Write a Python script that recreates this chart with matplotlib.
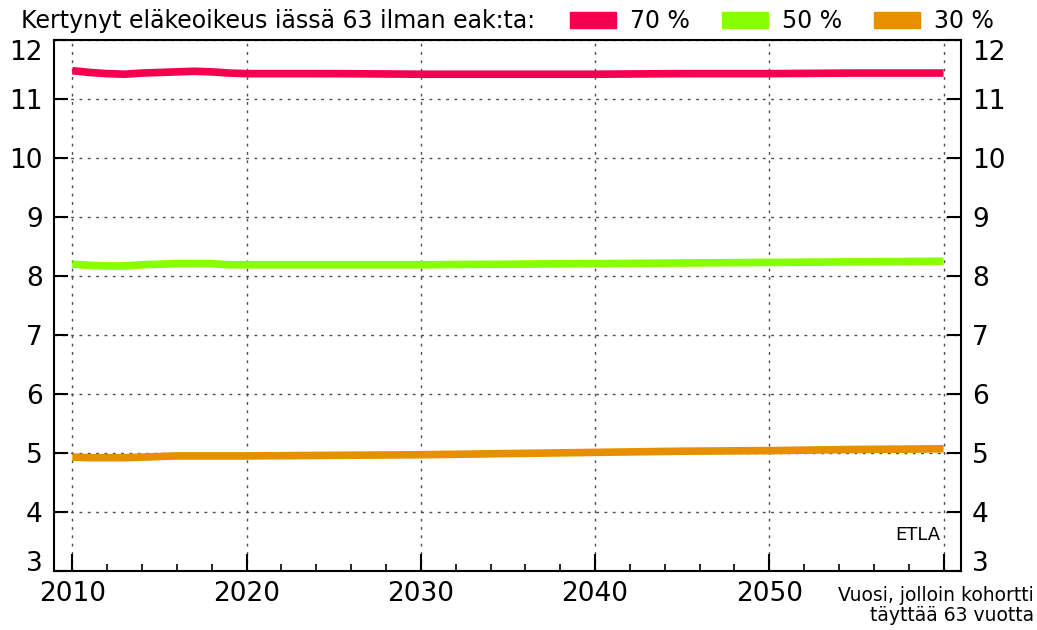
import matplotlib
matplotlib.use("Agg")
import matplotlib.pyplot as plt
from matplotlib.patches import Patch
from matplotlib.ticker import MultipleLocator

plt.rcParams['font.family'] = ['DejaVu Sans']

# kertynyt eläkeoikeus iässä 63 (ilman eak:ta), arvot luettu kuvasta
years = [2010, 2011, 2012, 2013, 2014, 2015, 2016, 2017, 2018, 2019, 2020,
         2025, 2030, 2035, 2040, 2045, 2050, 2055, 2060]
s70 = [11.48, 11.45, 11.43, 11.42, 11.44, 11.45, 11.46, 11.47, 11.46, 11.44, 11.43,
       11.43, 11.42, 11.42, 11.42, 11.43, 11.43, 11.44, 11.44]
s50 = [8.20, 8.18, 8.17, 8.17, 8.19, 8.20, 8.21, 8.21, 8.21, 8.19, 8.19,
       8.19, 8.19, 8.20, 8.21, 8.22, 8.23, 8.24, 8.25]
s30 = [4.93, 4.92, 4.92, 4.92, 4.93, 4.94, 4.95, 4.95, 4.95, 4.95, 4.95,
       4.96, 4.97, 4.99, 5.01, 5.03, 5.04, 5.06, 5.07]

labels = ['70 %', '50 %', '30 %']
colors = ['#f5004f', '#88ff00', '#e69000']
legend_title = 'Kertynyt eläkeoikeus iässä 63 ilman eak:ta:'
xticks = [2010, 2020, 2030, 2040, 2050, 2060]
xticklabels = ['2010', '2020', '2030', '2040', '2050', '']
yticks = [3, 4, 5, 6, 7, 8, 9, 10, 11, 12]

fig = plt.figure(figsize=(10.37, 6.30), dpi=100)
ax = fig.add_axes([0.0521, 0.0937, 0.8746, 0.8428])

for vals, c in zip([s70, s50, s30], colors):
    ax.plot(years, vals, color=c, lw=5.5, solid_capstyle='butt')

ax.set_xlim(2008.95, 2061)
ax.set_ylim(3, 12)
ax.set_xticks(xticks)
ax.set_xticklabels(xticklabels)
ax.xaxis.set_minor_locator(MultipleLocator(2))
ax.set_yticks(yticks)
ax.set_yticklabels([str(v) for v in yticks])
ax.grid(True, which='major', color='0.3', linestyle=(0, (2, 4)), lw=1)

ax.tick_params(axis='x', which='major', direction='in', length=12, width=1.5,
               labelsize=19, pad=7, top=False)
ax.tick_params(axis='x', which='minor', direction='in', length=5, width=1.2, top=False)
ax.tick_params(axis='y', which='major', direction='in', length=10, width=1.5,
               labelsize=19, left=True, right=True, labelright=True, pad=8)
for sp in ax.spines.values():
    sp.set_linewidth(1.5)

# reunimmaiset y-tekstit siirretty sisäänpäin kuten alkuperäisessä
for t in ax.yaxis.get_major_ticks():
    if t.get_loc() == 12:
        t.label1.set_va('top')
        t.label2.set_va('top')
    elif t.get_loc() == 3:
        t.label1.set_va('baseline')
        t.label2.set_va('baseline')

ax.text(0.977, 0.068, 'ETLA', transform=ax.transAxes, ha='right', va='center', fontsize=13)
fig.text(0.997, 0.008, 'Vuosi, jolloin kohortti\ntäyttää 63 vuotta', ha='right', va='bottom',
         fontsize=13.5, linespacing=1.05)

fig.text(0.02, 0.966, legend_title, ha='left', va='center', fontsize=17)
handles = [Patch(facecolor=c, edgecolor=c) for c in colors]
fig.legend(handles, labels, ncol=3, loc='center right', bbox_to_anchor=(0.968, 0.966),
           frameon=False, fontsize=17, handlelength=1.95, handleheight=0.7,
           columnspacing=1.35, handletextpad=0.6, borderaxespad=0)

fig.savefig('out.png', dpi=100)
